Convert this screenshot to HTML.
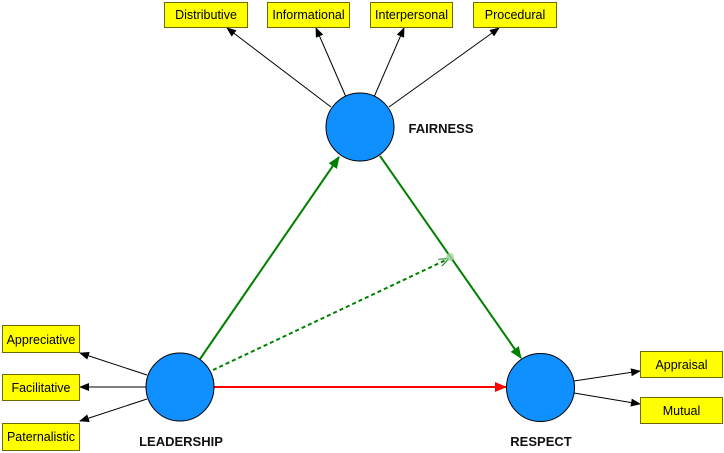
<!DOCTYPE html>
<html><head><meta charset="utf-8"><style>
body{margin:0;background:#fff;}
svg{display:block;font-family:"Liberation Sans",Arial,sans-serif;}
</style></head><body>
<svg width="724" height="453" viewBox="0 0 724 453" xmlns="http://www.w3.org/2000/svg">
<defs>
<marker id="ab" markerWidth="10" markerHeight="8" refX="9" refY="4" orient="auto" markerUnits="userSpaceOnUse"><path d="M0,0 L10,4 L0,8 Z" fill="#000"/></marker>
<marker id="ag" markerWidth="12" markerHeight="10" refX="11" refY="5" orient="auto" markerUnits="userSpaceOnUse"><path d="M0,0 L12,5 L0,10 Z" fill="#008000"/></marker>
<marker id="ar" markerWidth="12" markerHeight="10" refX="11" refY="5" orient="auto" markerUnits="userSpaceOnUse"><path d="M0,0 L12,5 L0,10 Z" fill="#f00"/></marker>
<marker id="ao" markerWidth="10" markerHeight="8" refX="9" refY="4" orient="auto" markerUnits="userSpaceOnUse"><path d="M0,0 L10,4 L0,8" fill="none" stroke="#008000" stroke-width="1"/></marker>
</defs>
<g stroke="#000" stroke-width="1" fill="none">
<line x1="331" y1="107" x2="227" y2="28" marker-end="url(#ab)"/>
<line x1="346" y1="97" x2="316" y2="28" marker-end="url(#ab)"/>
<line x1="374" y1="97" x2="404" y2="28" marker-end="url(#ab)"/>
<line x1="389" y1="107" x2="499" y2="28" marker-end="url(#ab)"/>
<line x1="147" y1="375" x2="80" y2="353" marker-end="url(#ab)"/>
<line x1="146" y1="387" x2="80" y2="387" marker-end="url(#ab)"/>
<line x1="147" y1="399" x2="80" y2="421" marker-end="url(#ab)"/>
<line x1="574" y1="381" x2="640" y2="371" marker-end="url(#ab)"/>
<line x1="574" y1="393" x2="640" y2="404" marker-end="url(#ab)"/>
</g>
<line x1="200" y1="359" x2="339" y2="157" stroke="#008000" stroke-width="2" marker-end="url(#ag)"/>
<line x1="380" y1="156" x2="521" y2="358" stroke="#008000" stroke-width="2" marker-end="url(#ag)"/>
<line x1="214" y1="387" x2="506" y2="387" stroke="#f00" stroke-width="2" marker-end="url(#ar)"/>
<line x1="213" y1="370" x2="448" y2="259" stroke="#008000" stroke-width="2" stroke-dasharray="4,3" marker-end="url(#ao)"/>
<circle cx="450" cy="257" r="4" fill="#9fd49f" opacity="0.8"/>
<g fill="#1090ff" stroke="#000" stroke-width="1">
<circle cx="360" cy="127" r="34"/>
<circle cx="180" cy="387" r="34"/>
<circle cx="540.5" cy="387.5" r="34"/>
</g>
<g fill="#ffff00" stroke="#6b6b00" stroke-width="1">
<rect x="164.5" y="2.5" width="83" height="25"/>
<rect x="267.5" y="2.5" width="82" height="25"/>
<rect x="370.5" y="2.5" width="82" height="25"/>
<rect x="473.5" y="2.5" width="83" height="25"/>
<rect x="2.5" y="325.5" width="77" height="27"/>
<rect x="2.5" y="374.5" width="77" height="26"/>
<rect x="2.5" y="423.5" width="77" height="27"/>
<rect x="640.5" y="351.5" width="82" height="26"/>
<rect x="640.5" y="397.5" width="82" height="26"/>
</g>
<g font-size="12.5" fill="#000" text-anchor="middle">
<text x="206" y="19">Distributive</text>
<text x="308.5" y="19">Informational</text>
<text x="411.5" y="19">Interpersonal</text>
<text x="515" y="19">Procedural</text>
<text x="41" y="344">Appreciative</text>
<text x="41" y="392">Facilitative</text>
<text x="41" y="441">Paternalistic</text>
<text x="681.5" y="369">Appraisal</text>
<text x="681.5" y="415">Mutual</text>
</g>
<g font-size="13" font-weight="bold" fill="#111" text-anchor="middle">
<text x="441" y="133">FAIRNESS</text>
<text x="181" y="446">LEADERSHIP</text>
<text x="541" y="446">RESPECT</text>
</g>
</svg>
</body></html>
